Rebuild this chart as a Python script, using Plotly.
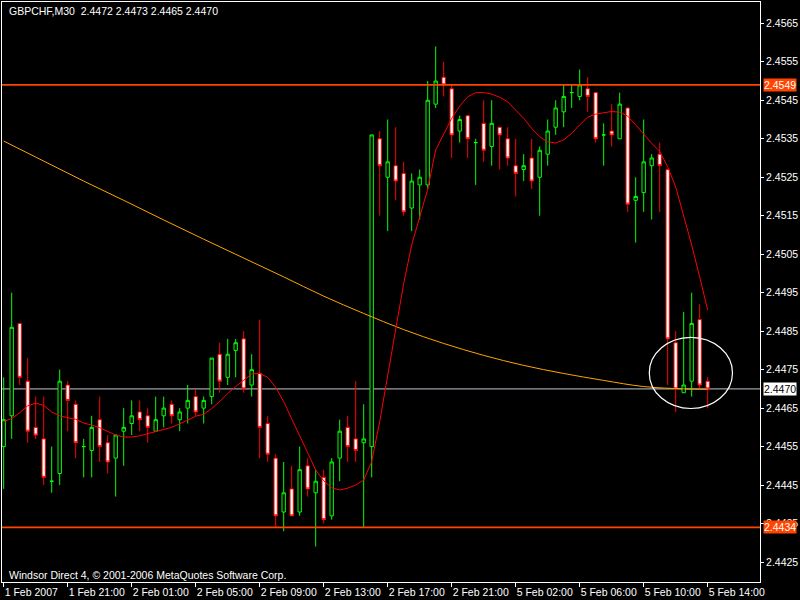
import numpy as np
import plotly.graph_objects as go

# ---------------- data (GBPCHF M30) ----------------
opens = [2.4455, 2.4463, 2.4487, 2.4472, 2.4460, 2.4457, 2.4446, 2.4448, 2.4471, 2.4466,
         2.4455, 2.4454, 2.4462, 2.4456, 2.4452, 2.4459, 2.4461, 2.4464, 2.4463, 2.4459,
         2.4463, 2.4466, 2.4462, 2.4465, 2.4468, 2.4465, 2.4468, 2.4479, 2.4473, 2.4480,
         2.4483, 2.4471, 2.4474, 2.4461, 2.4452, 2.4438, 2.4444, 2.4438, 2.4450, 2.4443,
         2.4447, 2.4437, 2.4452, 2.4460, 2.4457, 2.4456, 2.4455, 2.4535, 2.4525, 2.4528,
         2.4526, 2.4517, 2.4523, 2.4523, 2.4544, 2.4551, 2.4548, 2.4537, 2.4541, 2.4534,
         2.4539, 2.4533, 2.4538, 2.4535, 2.4528, 2.4527, 2.4530, 2.4525, 2.4531, 2.4538,
         2.4542, 2.4547, 2.4546, 2.4548, 2.4547, 2.4536, 2.4537, 2.4535, 2.4543, 2.4519,
         2.4521, 2.4528, 2.4531, 2.4527, 2.4482, 2.4469, 2.4472, 2.4488, 2.4472]
highs = [2.4473, 2.4495, 2.4487, 2.4478, 2.4468, 2.4468, 2.4455, 2.4475, 2.4472, 2.4467,
         2.4457, 2.4463, 2.4468, 2.4458, 2.4458, 2.4465, 2.4467, 2.4467, 2.4465, 2.4468,
         2.4468, 2.4467, 2.4465, 2.4471, 2.4470, 2.4468, 2.4478, 2.4482, 2.4483, 2.4483,
         2.4485, 2.4479, 2.4488, 2.4463, 2.4453, 2.4451, 2.4450, 2.4455, 2.4452, 2.4449,
         2.4449, 2.4452, 2.4462, 2.4463, 2.4472, 2.4466, 2.4536, 2.4537, 2.4540, 2.4538,
         2.4529, 2.4526, 2.4527, 2.4550, 2.4559, 2.4555, 2.4549, 2.4541, 2.4541, 2.4535,
         2.4545, 2.4545, 2.4538, 2.4538, 2.4535, 2.4531, 2.4535, 2.4533, 2.4540, 2.4545,
         2.4549, 2.4549, 2.4553, 2.4551, 2.4547, 2.4539, 2.4544, 2.4547, 2.4543, 2.4525,
         2.4540, 2.4531, 2.4534, 2.4527, 2.4485, 2.4490, 2.4495, 2.4492, 2.4473]
lows = [2.4444, 2.4457, 2.4471, 2.4456, 2.4457, 2.4445, 2.4443, 2.4445, 2.4459, 2.4452,
        2.4447, 2.4447, 2.4451, 2.4448, 2.4442, 2.4450, 2.4458, 2.4459, 2.4456, 2.4459,
        2.4460, 2.4461, 2.4459, 2.4461, 2.4463, 2.4461, 2.4466, 2.4469, 2.4471, 2.4473,
        2.4469, 2.4468, 2.4452, 2.4451, 2.4434, 2.4433, 2.4437, 2.4437, 2.4442, 2.4429,
        2.4435, 2.4436, 2.4446, 2.4451, 2.4451, 2.4434, 2.4447, 2.4515, 2.4511, 2.4519,
        2.4515, 2.4511, 2.4514, 2.4522, 2.4543, 2.4546, 2.4530, 2.4534, 2.4530, 2.4523,
        2.4529, 2.4528, 2.4527, 2.4528, 2.4520, 2.4524, 2.4522, 2.4515, 2.4528, 2.4536,
        2.4538, 2.4543, 2.4545, 2.4542, 2.4534, 2.4528, 2.4533, 2.4535, 2.4516, 2.4508,
        2.4516, 2.4514, 2.4516, 2.4471, 2.4464, 2.4469, 2.4468, 2.4470, 2.4465]
closes = [2.4462, 2.4486, 2.4473, 2.4459, 2.4458, 2.4447, 2.4446, 2.4472, 2.4467, 2.4456,
          2.4455, 2.4460, 2.4455, 2.4451, 2.4458, 2.4460, 2.4463, 2.4462, 2.4460, 2.4462,
          2.4465, 2.4463, 2.4464, 2.4467, 2.4464, 2.4467, 2.4478, 2.4472, 2.4479, 2.4482,
          2.4470, 2.4475, 2.4460, 2.4453, 2.4437, 2.4443, 2.4437, 2.4449, 2.4444, 2.4446,
          2.4436, 2.4451, 2.4459, 2.4455, 2.4454, 2.4457, 2.4536, 2.4528, 2.4529, 2.4524,
          2.4516, 2.4524, 2.4525, 2.4545, 2.4550, 2.4549, 2.4536, 2.4540, 2.4535, 2.4534,
          2.4532, 2.4539, 2.4536, 2.4530, 2.4526, 2.4528, 2.4524, 2.4532, 2.4537, 2.4543,
          2.4546, 2.4547, 2.4549, 2.4546, 2.4535, 2.4536, 2.4536, 2.4544, 2.4518, 2.4520,
          2.4529, 2.4530, 2.4528, 2.4483, 2.4470, 2.4471, 2.4487, 2.4471, 2.4470]

# red moving average, one reading per bar
ma_fast = [2.44615, 2.44623, 2.44638, 2.44656, 2.44663, 2.44657, 2.44640, 2.44630, 2.44625, 2.44621,
           2.44611, 2.44606, 2.44599, 2.44589, 2.44580, 2.44575, 2.44575, 2.44578, 2.44583, 2.44589,
           2.44594, 2.44600, 2.44609, 2.44619, 2.44629, 2.44634, 2.44649, 2.44667, 2.44688, 2.44706,
           2.44723, 2.44739, 2.44740, 2.44730, 2.44704, 2.44667, 2.44622, 2.44580, 2.44534, 2.44489,
           2.44461, 2.44443, 2.44437, 2.44442, 2.44450, 2.44463, 2.44511, 2.44615, 2.44736, 2.44862,
           2.44974, 2.45074, 2.45147, 2.45219, 2.45321, 2.45360, 2.45403, 2.45435, 2.45459, 2.45470,
           2.45470, 2.45466, 2.45458, 2.45446, 2.45425, 2.45403, 2.45377, 2.45355, 2.45342, 2.45339,
           2.45347, 2.45364, 2.45386, 2.45406, 2.45414, 2.45418, 2.45421, 2.45419, 2.45409, 2.45386,
           2.45362, 2.45338, 2.45317, 2.45277, 2.45225, 2.45151, 2.45074, 2.44991, 2.44905]

# orange slow moving average, readings at sampled bars
ma_slow_bars = [0, 5, 10, 15, 20, 25, 30, 35, 40, 45, 50, 55, 60, 65, 70, 75, 80, 85, 88]
ma_slow = [2.45344, 2.45292, 2.45240, 2.45190, 2.45139, 2.45089, 2.45040, 2.44991, 2.44941, 2.44896,
           2.44854, 2.44818, 2.44787, 2.44761, 2.44740, 2.44722, 2.44706, 2.44700, 2.44699]

level_lines = [2.4549, 2.4434]
bid_price = 2.4470

x_tick_labels = ["1 Feb 2007", "1 Feb 21:00", "2 Feb 01:00", "2 Feb 05:00", "2 Feb 09:00",
                 "2 Feb 13:00", "2 Feb 17:00", "2 Feb 21:00", "5 Feb 02:00", "5 Feb 06:00",
                 "5 Feb 10:00", "5 Feb 14:00"]
y_tick_values = [2.4425, 2.4435, 2.4445, 2.4455, 2.4465, 2.4475, 2.4485, 2.4495,
                 2.4505, 2.4515, 2.4525, 2.4535, 2.4545, 2.4555, 2.4565]

symbol = "GBPCHF,M30"
footer = "Windsor Direct 4, © 2001-2006 MetaQuotes Software Corp."

# ---------------- figure ----------------
FONT = "Liberation Sans, Arial, sans-serif"
FS = 10.5
o = np.array(opens); h = np.array(highs); l = np.array(lows); c = np.array(closes)
x = np.arange(len(o))
bull = c >= o
bear = ~bull

fig = go.Figure()
fig.add_trace(go.Candlestick(
    x=x[bull], open=o[bull], high=h[bull], low=l[bull], close=c[bull],
    increasing=dict(line=dict(color="#00FF00", width=1), fillcolor="#000000"),
    decreasing=dict(line=dict(color="#00FF00", width=1), fillcolor="#000000"),
    whiskerwidth=0, hoverinfo="skip"))
fig.add_trace(go.Candlestick(
    x=x[bear], open=o[bear], high=h[bear], low=l[bear], close=c[bear],
    increasing=dict(line=dict(color="#FF0000", width=1), fillcolor="#FFFFFF"),
    decreasing=dict(line=dict(color="#FF0000", width=1), fillcolor="#FFFFFF"),
    whiskerwidth=0, hoverinfo="skip"))
fig.add_trace(go.Scatter(x=ma_slow_bars, y=ma_slow, mode="lines",
                         line=dict(color="#FFA500", width=1, shape="spline"), hoverinfo="skip"))
fig.add_trace(go.Scatter(x=x, y=ma_fast, mode="lines",
                         line=dict(color="#FF0000", width=1), hoverinfo="skip"))

shapes = []
for lv in level_lines:
    shapes.append(dict(type="line", xref="paper", x0=0, x1=1, yref="y", y0=lv, y1=lv,
                       line=dict(color="#FF4500", width=1.6), layer="above"))
shapes.append(dict(type="line", xref="paper", x0=0, x1=1, yref="y", y0=bid_price, y1=bid_price,
                   line=dict(color="#9AA0A8", width=1.2), layer="below"))
shapes.append(dict(type="circle", xref="x", yref="y", x0=80.7, x1=91.1, y0=2.44649, y1=2.44834,
                   line=dict(color="#FFFFFF", width=1.2)))

annotations = []
for lv in level_lines:
    annotations.append(dict(xref="paper", x=1, xanchor="left", xshift=3, yref="y", y=lv,
                            text=f"{lv:.4f}", showarrow=False, bgcolor="#FF4500",
                            font=dict(color="white", size=FS, family=FONT), borderpad=0))
annotations.append(dict(xref="paper", x=1, xanchor="left", xshift=3, yref="y", y=bid_price,
                        text=f"{bid_price:.4f}", showarrow=False, bgcolor="#FFFFFF",
                        font=dict(color="black", size=FS, family=FONT), borderpad=0))
title_txt = symbol + "\u00a0\u00a0" + " ".join(f"{v:.4f}" for v in (o[-1], h[-1], l[-1], c[-1]))
annotations.append(dict(xref="paper", yref="paper", x=0.0066, y=0.9845, xanchor="left",
                        yanchor="middle", text=title_txt, showarrow=False,
                        font=dict(color="white", size=FS, family=FONT)))
annotations.append(dict(xref="paper", yref="paper", x=0.0066, y=0.012, xanchor="left",
                        yanchor="middle", text=footer, showarrow=False,
                        font=dict(color="white", size=FS, family=FONT)))

fig.update_layout(
    width=800, height=600,
    margin=dict(l=2, r=40, t=2, b=18, autoexpand=False),
    paper_bgcolor="#000000", plot_bgcolor="#000000",
    showlegend=False, boxgap=0.4,
    shapes=shapes, annotations=annotations,
    font=dict(family=FONT, color="white", size=FS),
    xaxis=dict(range=[-0.2125, 94.54], tickvals=list(range(0, len(o), 8)), ticktext=x_tick_labels,
               ticks="outside", ticklen=4, tickcolor="white", ticklabelposition="outside right",
               tickangle=0,
               showline=True, linecolor="white", linewidth=1, mirror=True,
               showgrid=False, zeroline=False, rangeslider=dict(visible=False),
               tickfont=dict(color="white", size=FS, family=FONT)),
    yaxis=dict(range=[2.441981, 2.457054], side="right", tickvals=y_tick_values,
               ticktext=[f"{v:.4f}" for v in y_tick_values],
               ticks="outside", ticklen=3, tickcolor="white",
               showline=True, linecolor="white", linewidth=1, mirror=True,
               showgrid=False, zeroline=False,
               tickfont=dict(color="white", size=FS, family=FONT)),
)

fig.write_html("out.html", config={"displayModeBar": False},
               post_script="document.body.style.margin='0';document.body.style.background='#000';")
